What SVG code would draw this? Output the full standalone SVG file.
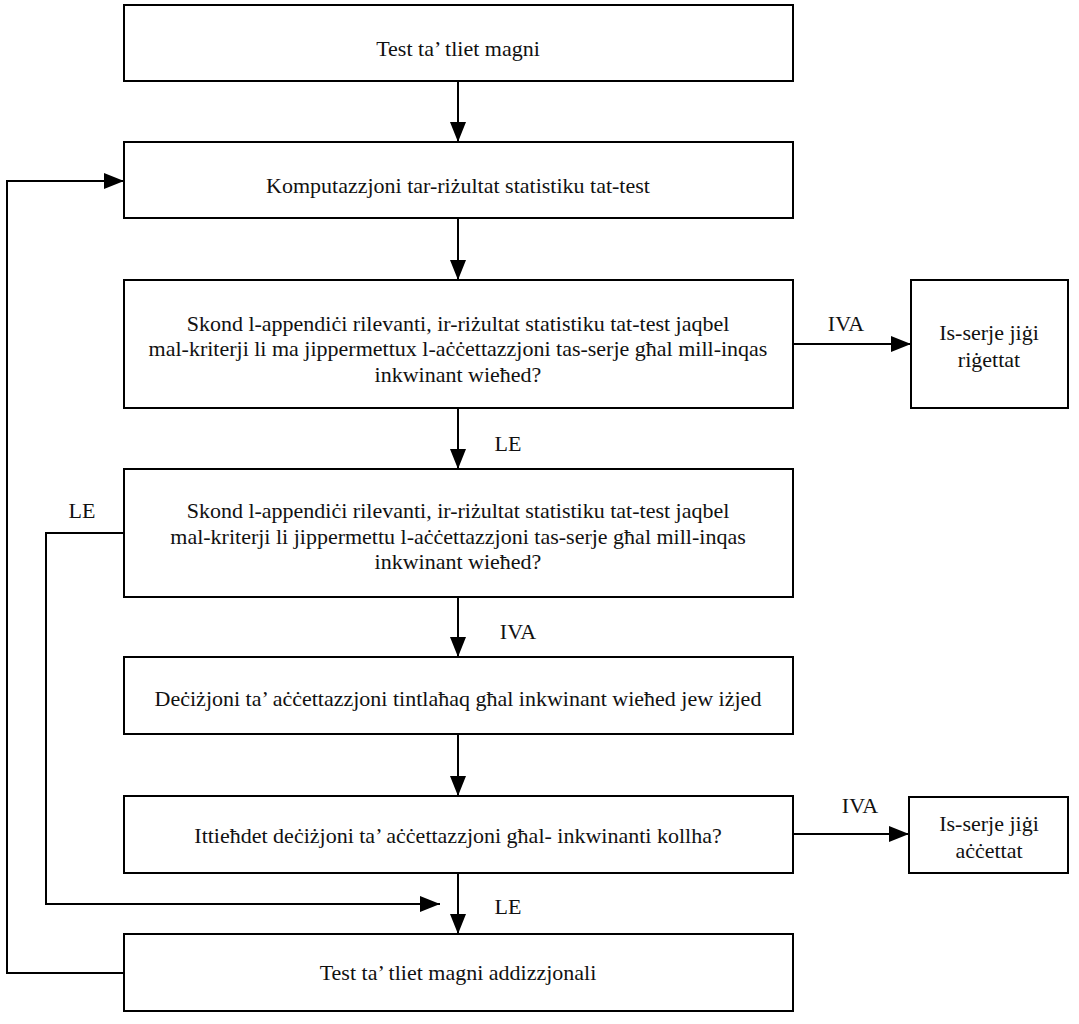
<svg xmlns="http://www.w3.org/2000/svg" width="1079" height="1024" viewBox="0 0 1079 1024">
<style>
.box{fill:#fff;stroke:#000;stroke-width:2}
.t{font-family:"Liberation Serif","DejaVu Serif","Times New Roman",serif;font-size:22px;fill:#111;text-anchor:middle}
.c{fill:none;stroke:#000;stroke-width:2}
</style>
<defs>
<marker id="ah" viewBox="0 0 20 16" refX="20" refY="8" markerWidth="20" markerHeight="16" markerUnits="userSpaceOnUse" orient="auto">
<path d="M0,0 L20,8 L0,16 Z" fill="#000"/>
</marker>
</defs>
<rect width="1079" height="1024" fill="#fff"/>
<g id="connectors">
<path class="c" d="M458,81 V142" marker-end="url(#ah)"/>
<path class="c" d="M458,218 V280" marker-end="url(#ah)"/>
<path class="c" d="M458,408 V469" marker-end="url(#ah)"/>
<path class="c" d="M458,597 V657" marker-end="url(#ah)"/>
<path class="c" d="M458,734 V796" marker-end="url(#ah)"/>
<path class="c" d="M458,873 V934" marker-end="url(#ah)"/>
<path class="c" d="M793,344 H911" marker-end="url(#ah)"/>
<path class="c" d="M793,834 H909" marker-end="url(#ah)"/>
<path class="c" d="M124,533 H46 V904 H440" marker-end="url(#ah)"/>
<path class="c" d="M124,973 H7 V181 H124" marker-end="url(#ah)"/>
<text class="t" x="846" y="331">IVA</text>
<text class="t" x="508" y="451">LE</text>
<text class="t" x="82" y="518">LE</text>
<text class="t" x="518" y="639">IVA</text>
<text class="t" x="860" y="813">IVA</text>
<text class="t" x="508" y="914">LE</text>
</g>
<g id="n1"><rect class="box" x="124" y="5" width="669" height="76"/><text class="t" x="458" y="56">Test ta’ tliet magni</text></g>
<g id="n2"><rect class="box" x="124" y="142" width="669" height="76"/><text class="t" x="458" y="193">Komputazzjoni tar-riżultat statistiku tat-test</text></g>
<g id="n3"><rect class="box" x="124" y="280" width="669" height="128"/>
<text class="t" x="458" y="331">Skond l-appendiċi rilevanti, ir-riżultat statistiku tat-test jaqbel</text>
<text class="t" x="458" y="356">mal-kriterji li ma jippermettux l-aċċettazzjoni tas-serje għal mill-inqas</text>
<text class="t" x="458" y="382">inkwinant wieħed?</text></g>
<g id="n3b"><rect class="box" x="911" y="280" width="157" height="128"/>
<text class="t" x="989" y="340">Is-serje jiġi</text>
<text class="t" x="989" y="367">riġettat</text></g>
<g id="n4"><rect class="box" x="124" y="469" width="669" height="128"/>
<text class="t" x="458" y="518">Skond l-appendiċi rilevanti, ir-riżultat statistiku tat-test jaqbel</text>
<text class="t" x="458" y="544">mal-kriterji li jippermettu l-aċċettazzjoni tas-serje għal mill-inqas</text>
<text class="t" x="458" y="569">inkwinant wieħed?</text></g>
<g id="n5"><rect class="box" x="124" y="657" width="669" height="77"/><text class="t" x="458" y="706">Deċiżjoni ta’ aċċettazzjoni tintlaħaq għal inkwinant wieħed jew iżjed</text></g>
<g id="n6"><rect class="box" x="124" y="796" width="669" height="77"/><text class="t" x="458" y="843">Ittieħdet deċiżjoni ta’ aċċettazzjoni għal- inkwinanti kollha?</text></g>
<g id="n6b"><rect class="box" x="909" y="797" width="159" height="76"/>
<text class="t" x="989" y="831">Is-serje jiġi</text>
<text class="t" x="989" y="858">aċċettat</text></g>
<g id="n7"><rect class="box" x="124" y="934" width="669" height="77"/><text class="t" x="458" y="980">Test ta’ tliet magni addizzjonali</text></g>
</svg>
